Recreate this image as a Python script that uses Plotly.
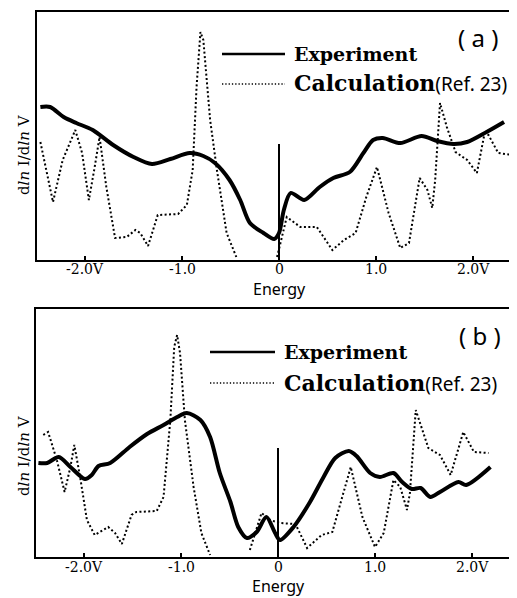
import plotly.graph_objects as go

# page is rendered with an 8px body margin; figure fills the rest of the window
OFF = 8
W, H = 517 - OFF, 598 - OFF

# ---------------- data (energy in V, signal in arbitrary units) ----------------
a_exp_E = [-2.46, -2.36, -2.22, -2.09, -1.92, -1.71, -1.50, -1.31, -1.12, -0.92, -0.78, -0.66,
           -0.51, -0.40, -0.30, -0.16, -0.05, 0.0, 0.05, 0.12, 0.26, 0.42, 0.56, 0.73, 0.87,
           0.97, 1.07, 1.25, 1.47, 1.63, 1.80, 1.94, 2.14, 2.32]
a_exp_y = [153, 153, 143, 137, 130, 115, 103, 96, 101, 107, 104, 97,
           80, 60, 37, 27, 21, 27, 50, 67, 60, 73, 82, 88, 107,
           120, 122, 117, 124, 119, 116, 118, 128, 138]

a_calc_E = [-2.46, -2.33, -2.23, -2.10, -2.03, -1.96, -1.90, -1.85, -1.78, -1.69, -1.57, -1.48,
            -1.43, -1.35, -1.25, -1.04, -0.95, -0.89, -0.85, -0.81, -0.78, -0.71, -0.64, -0.54,
            -0.44, None,
            -0.02, 0.08, 0.22, 0.39, 0.55, 0.67, 0.79, 0.90, 1.01, 1.13, 1.25, 1.34, 1.45, 1.53,
            1.58, 1.61, 1.66, 1.73, 1.82, 1.94, 2.04, 2.12, 2.16, 2.26, 2.40]
a_calc_y = [118, 58, 100, 130, 107, 60, 93, 123, 73, 22, 23, 30,
            27, 14, 45, 46, 55, 90, 173, 228, 220, 140, 90, 27,
            3, None,
            3, 43, 33, 33, 10, 20, 27, 63, 93, 47, 12, 17, 82, 70,
            52, 80, 157, 133, 108, 100, 87, 127, 125, 107, 105]

b_exp_E = [-2.47, -2.38, -2.26, -2.14, -1.99, -1.92, -1.85, -1.73, -1.53, -1.35, -1.18, -1.04,
           -0.94, -0.80, -0.70, -0.60, -0.49, -0.41, -0.32, -0.22, -0.12, -0.03, 0.02, 0.16,
           0.33, 0.47, 0.59, 0.73, 0.81, 0.95, 1.05, 1.19, 1.28, 1.38, 1.47, 1.57, 1.67, 1.86,
           1.94, 2.19]
b_exp_y = [94, 94, 100, 90, 78, 82, 91, 94, 110, 123, 132, 140,
           144, 137, 120, 84, 55, 30, 19, 25, 40, 24, 17, 30,
           55, 80, 99, 106, 101, 84, 80, 84, 75, 68, 69, 60, 65, 75,
           72, 90]

b_calc_E = [-2.42, -2.37, -2.28, -2.20, -2.14, -2.10, -2.04, -1.97, -1.89, -1.75, -1.68, -1.61,
            -1.51, -1.46, -1.25, -1.18, -1.11, -1.07, -1.04, -1.01, -0.96, -0.87, -0.79, -0.70,
            None,
            -0.29, -0.17, -0.08, 0.02, 0.18, 0.30, 0.45, 0.56, 0.75, 0.87, 1.00, 1.09, 1.19,
            1.26, 1.33, 1.36, 1.42, 1.55, 1.67, 1.78, 1.91, 2.02, 2.17]
b_calc_y = [122, 125, 97, 65, 90, 112, 80, 37, 22, 30, 24, 13,
            42, 45, 46, 60, 137, 210, 222, 204, 137, 70, 24, 2,
            None,
            7, 44, 37, 34, 33, 9, 22, 25, 90, 40, 10, 24, 77,
            70, 47, 64, 147, 109, 102, 82, 125, 105, 104]

zero_E = [0, 0]
a_zero_y = [0, 116]
b_zero_y = [0, 109]

tick_vals = [-2, -1, 0, 1, 2]
tick_text = ["-2.0V", "-1.0", "0", "1.0", "2.0V"]

# ---------------- figure ----------------
SERIF = "DejaVu Serif"
SANS = "Noto Sans"

fig = go.Figure()


def add_panel(xa, ya, expE, expY, calE, calY, zy):
    fig.add_trace(go.Scatter(x=calE, y=calY, mode="lines", xaxis=xa, yaxis=ya,
                             line=dict(color="black", width=2, dash="2px,2.4px"),
                             connectgaps=False, showlegend=False, hoverinfo="skip"))
    fig.add_trace(go.Scatter(x=expE, y=expY, mode="lines", xaxis=xa, yaxis=ya,
                             line=dict(color="black", width=4, shape="spline", smoothing=0.8),
                             showlegend=False, hoverinfo="skip"))
    fig.add_trace(go.Scatter(x=zero_E, y=zy, mode="lines", xaxis=xa, yaxis=ya,
                             line=dict(color="black", width=2),
                             showlegend=False, hoverinfo="skip"))


add_panel("x", "y", a_exp_E, a_exp_y, a_calc_E, a_calc_y, a_zero_y)
add_panel("x2", "y2", b_exp_E, b_exp_y, b_calc_E, b_calc_y, b_zero_y)


def px(x):
    return (x - OFF) / W


def py(y):
    return 1 - (y - OFF) / H


xcommon = dict(tickmode="array", tickvals=tick_vals, showticklabels=False,
               ticks="inside", ticklen=4, tickwidth=2, tickcolor="black",
               showline=True, linecolor="black", linewidth=2, mirror=True,
               showgrid=False, zeroline=False)
ycommon = dict(range=[0, 248], showline=True, linecolor="black", linewidth=2,
               showgrid=False, zeroline=False, showticklabels=False, ticks="")

fig.update_layout(
    width=W, height=H,
    margin=dict(l=0, r=0, t=0, b=0),
    paper_bgcolor="white", plot_bgcolor="white",
    xaxis=dict(domain=[px(37), 1.0], range=[(37 - 279) / 97, (517 - 279) / 97], anchor="y", **xcommon),
    yaxis=dict(domain=[py(260), py(12)], anchor="x", **ycommon),
    xaxis2=dict(domain=[px(36), 1.0], range=[(36 - 278) / 97, (517 - 278) / 97], anchor="y2", **xcommon),
    yaxis2=dict(domain=[py(557), py(309)], anchor="x2", **ycommon),
)

shapes = []
annotations = []


def panel_text(xref, y_exp, y_cal, x0, x1, xtext, label, lab_x, lab_y,
               ytitle_y, tick_y, energy_y, energy_x):
    shapes.append(dict(type="line", xref="paper", yref="paper",
                       x0=px(x0), x1=px(x1), y0=py(y_exp), y1=py(y_exp),
                       line=dict(color="black", width=2.4)))
    shapes.append(dict(type="line", xref="paper", yref="paper",
                       x0=px(x0), x1=px(x1), y0=py(y_cal), y1=py(y_cal),
                       line=dict(color="black", width=1.3, dash="1.3px,2px")))
    annotations.append(dict(xref="paper", yref="paper", x=px(xtext), y=py(y_exp),
                            xanchor="left", yanchor="middle", showarrow=False,
                            text="<b>Experiment</b>",
                            font=dict(family=SERIF, size=19, color="black")))
    annotations.append(dict(xref="paper", yref="paper", x=px(xtext), y=py(y_cal),
                            xanchor="left", yanchor="middle", showarrow=False,
                            text="<b>Calculation</b><span style='font-family:Noto Sans;font-size:19px'>(Ref. 23)</span>",
                            font=dict(family=SERIF, size=22, color="black")))
    annotations.append(dict(xref="paper", yref="paper", x=px(lab_x), y=py(lab_y),
                            xanchor="center", yanchor="middle", showarrow=False,
                            text=label, font=dict(family=SANS, size=24, color="black")))
    annotations.append(dict(xref="paper", yref="paper", x=px(24), y=py(ytitle_y),
                            xanchor="center", yanchor="middle", showarrow=False, textangle=-90,
                            text="d<i>ln</i> I/d<i>ln</i> V",
                            font=dict(family=SERIF, size=15, color="black")))
    for v, t in zip(tick_vals, tick_text):
        annotations.append(dict(xref=xref, yref="paper", x=v, y=py(tick_y),
                                xanchor="center", yanchor="middle", showarrow=False,
                                text=t, font=dict(family=SERIF, size=14, color="black")))
    annotations.append(dict(xref="paper", yref="paper", x=px(energy_x), y=py(energy_y),
                            xanchor="center", yanchor="middle", showarrow=False,
                            text="Energy", font=dict(family=SANS, size=16, color="black")))


panel_text("x", 54, 84, 222, 285, 292, "( a )", 478, 37, 155, 269, 289, 279)
panel_text("x2", 352, 383, 210, 275, 282, "( b )", 480, 335, 456, 567, 586, 278)

fig.update_layout(shapes=shapes, annotations=annotations)

fig.write_html("out.html")
